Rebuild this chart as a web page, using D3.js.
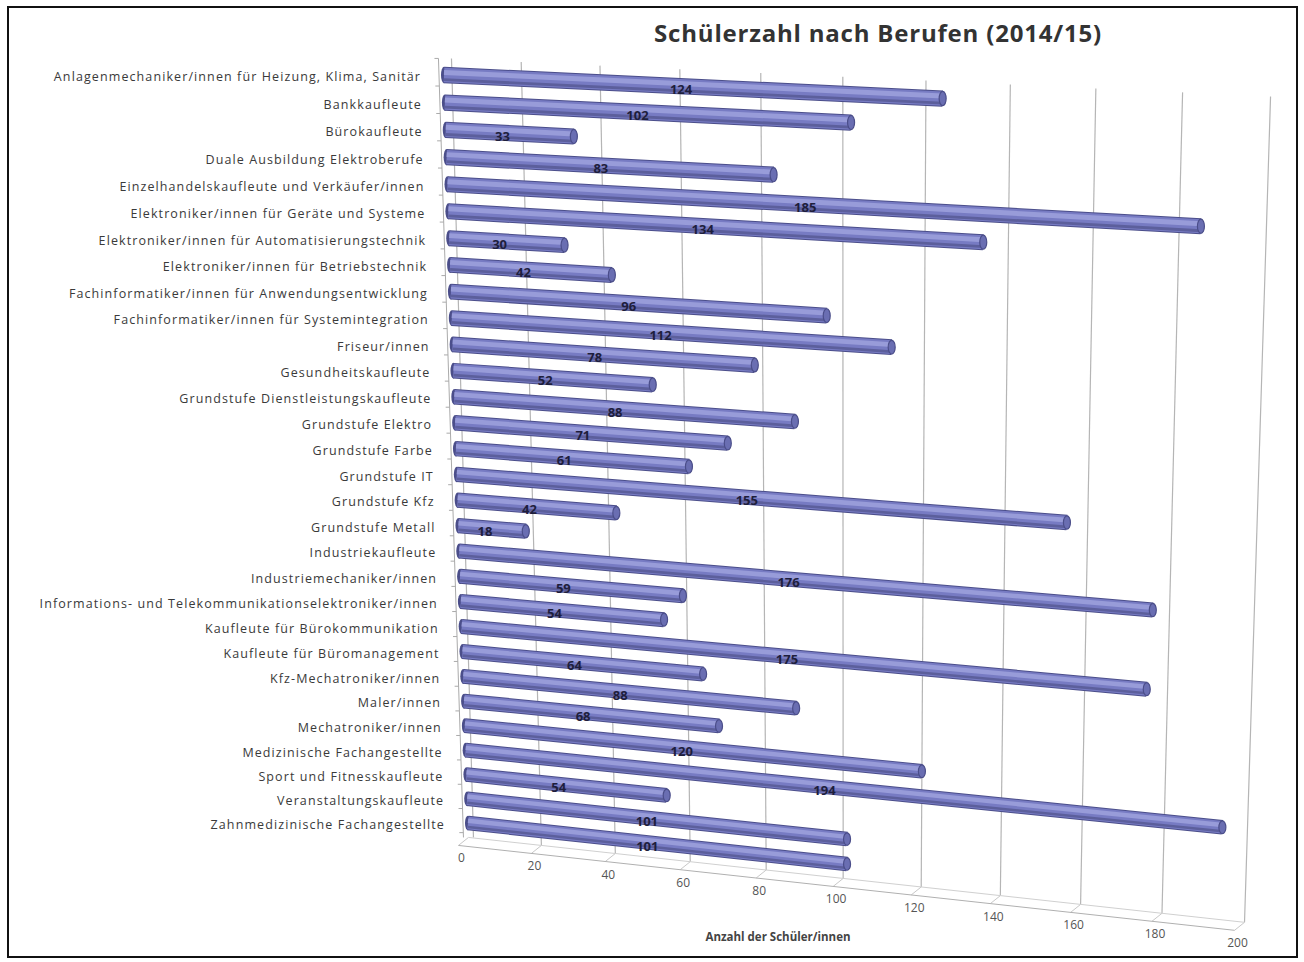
<!DOCTYPE html>
<html>
<head>
<meta charset="utf-8">
<script src="https://cdn.jsdelivr.net/npm/d3@7"></script>
<style>
  body { margin: 0; background: #fff; }
  svg { display: block; }
</style>
</head>
<body>
<div id="chart"></div>
<script>
// Categories (top to bottom) and values
const categories = [
  "Anlagenmechaniker/innen für Heizung, Klima, Sanitär",
  "Bankkaufleute",
  "Bürokaufleute",
  "Duale Ausbildung Elektroberufe",
  "Einzelhandelskaufleute und Verkäufer/innen",
  "Elektroniker/innen für Geräte und Systeme",
  "Elektroniker/innen für Automatisierungstechnik",
  "Elektroniker/innen für Betriebstechnik",
  "Fachinformatiker/innen für Anwendungsentwicklung",
  "Fachinformatiker/innen für Systemintegration",
  "Friseur/innen",
  "Gesundheitskaufleute",
  "Grundstufe Dienstleistungskaufleute",
  "Grundstufe Elektro",
  "Grundstufe Farbe",
  "Grundstufe IT",
  "Grundstufe Kfz",
  "Grundstufe Metall",
  "Industriekaufleute",
  "Industriemechaniker/innen",
  "Informations- und Telekommunikationselektroniker/innen",
  "Kaufleute für Bürokommunikation",
  "Kaufleute für Büromanagement",
  "Kfz-Mechatroniker/innen",
  "Maler/innen",
  "Mechatroniker/innen",
  "Medizinische Fachangestellte",
  "Sport und Fitnesskaufleute",
  "Veranstaltungskaufleute",
  "Zahnmedizinische Fachangestellte"
];
const values = [124, 102, 33, 83, 185, 134, 30, 42, 96, 112, 78, 52, 88, 71, 61,
                155, 42, 18, 176, 59, 54, 175, 64, 88, 68, 120, 194, 54, 101, 101];
const xTicks = [0, 20, 40, 60, 80, 100, 120, 140, 160, 180, 200];
const title = "Schülerzahl nach Berufen (2014/15)";
const xTitle = "Anzahl der Schüler/innen";

const W = 1304, H = 962;
const svg = d3.select("#chart").append("svg")
    .attr("width", W)
    .attr("height", H);

// scales for the value axis and the category rows
const vScale = d3.scaleLinear().domain([0, 200]).range([0, 1]);
const rScale = d3.scaleLinear().domain([0, categories.length - 1]).range([0, 1]);

// perspective warp (right side and top are nearer to the viewer)
const kv = 0.0664, kr = 0.0696;
const warpV = u => u * (1 - kv) / (1 - kv * u);
const warpR = s => s * (1 + kr) / (1 + kr * s);

// corners of the bar plane: first/last row at value 0 and 200
const TL = [444, 75], TR = [1270, 114], BL = [468, 823], BR = [1245, 907];

function proj(v, r) {
  const u = warpV(vScale(v)), s = warpR(rScale(r));
  const x = (1 - s) * ((1 - u) * TL[0] + u * TR[0]) + s * ((1 - u) * BL[0] + u * BR[0]);
  const y = (1 - s) * ((1 - u) * TL[1] + u * TR[1]) + s * ((1 - u) * BL[1] + u * BR[1]);
  return [x, y];
}

// outer frame
svg.append("rect")
    .attr("x", 8).attr("y", 7)
    .attr("width", 1289).attr("height", 950)
    .attr("fill", "none")
    .attr("stroke", "#111")
    .attr("stroke-width", 2);

// title
svg.append("text")
    .attr("x", 878).attr("y", 42)
    .attr("text-anchor", "middle")
    .style("font", "bold 24px 'Open Sans', sans-serif")
    .style("letter-spacing", "0.8px")
    .style("fill", "#333")
    .text(title);

const rTop = -0.6, rBot = categories.length - 1 + 0.6;
const floorShift = [-10, 8];

// gridlines on the back wall
const grid = svg.append("g");
xTicks.forEach(t => {
  const a = proj(t, rTop), b = proj(t, rBot);
  grid.append("line")
      .attr("x1", a[0] + (t === 0 ? 8 : 0)).attr("y1", a[1])
      .attr("x2", b[0] + (t === 0 ? 5 : 0)).attr("y2", b[1])
      .attr("stroke", "#b5b5b5")
      .attr("stroke-width", 1.2);
  // floor depth line from back to front tick
  grid.append("line")
      .attr("x1", b[0]).attr("y1", b[1])
      .attr("x2", b[0] + floorShift[0]).attr("y2", b[1] + floorShift[1])
      .attr("stroke", "#c8c8c8");
});

// floor edges
const back0 = proj(0, rBot), back1 = proj(200, rBot);
grid.append("line")
    .attr("x1", back0[0]).attr("y1", back0[1])
    .attr("x2", back1[0]).attr("y2", back1[1])
    .attr("stroke", "#d0d0d0");
grid.append("line")
    .attr("x1", back0[0] + floorShift[0]).attr("y1", back0[1] + floorShift[1])
    .attr("x2", back1[0] + floorShift[0]).attr("y2", back1[1] + floorShift[1])
    .attr("stroke", "#b0b0b0");

// tick labels under the floor
xTicks.forEach(t => {
  const b = proj(t, rBot);
  svg.append("text")
      .attr("x", b[0] + floorShift[0] + 3)
      .attr("y", b[1] + floorShift[1] + 17)
      .attr("text-anchor", "middle")
      .style("font", "12px 'Open Sans', sans-serif")
      .style("fill", "#555")
      .text(t);
});

// axis title
svg.append("text")
    .attr("x", 778).attr("y", 941)
    .attr("text-anchor", "middle")
    .style("font", "bold 11.5px 'Open Sans', sans-serif")
    .style("fill", "#444")
    .text(xTitle);

// category axis line with small ticks between rows
const ax0 = proj(0, rTop), ax1 = proj(0, rBot);
svg.append("line")
    .attr("x1", ax0[0] - 5).attr("y1", ax0[1])
    .attr("x2", ax1[0] - 5).attr("y2", ax1[1])
    .attr("stroke", "#aaa");
d3.range(rTop, rBot + 0.01, 1).forEach(r => {
  const p = proj(0, r);
  svg.append("line")
      .attr("x1", p[0] - 9).attr("y1", p[1])
      .attr("x2", p[0] - 5).attr("y2", p[1])
      .attr("stroke", "#aaa");
});

// category labels
categories.forEach((c, i) => {
  const p = proj(0, i);
  svg.append("text")
      .attr("x", p[0] - 23)
      .attr("y", p[1] + 2)
      .attr("dy", "0.35em")
      .attr("text-anchor", "end")
      .style("font", "12.5px 'Open Sans', sans-serif")
      .style("letter-spacing", "1.1px")
      .style("fill", "#3a3a3a")
      .text(c);
});

// bars drawn as tubes
const bars = svg.append("g");
values.forEach((v, i) => {
  const a = proj(0, i), b = proj(v, i);
  const th = (proj(0, i + 0.5)[1] - proj(0, i - 0.5)[1]) * 0.52;
  const g = bars.append("g");
  g.append("ellipse")
      .attr("cx", a[0]).attr("cy", a[1])
      .attr("rx", 3).attr("ry", th / 2 + 1)
      .attr("fill", "#4b4e8a");
  g.append("line")
      .attr("x1", a[0]).attr("y1", a[1]).attr("x2", b[0]).attr("y2", b[1])
      .attr("stroke", "#4b4e8a").attr("stroke-width", th + 2);
  g.append("line")
      .attr("x1", a[0]).attr("y1", a[1]).attr("x2", b[0]).attr("y2", b[1])
      .attr("stroke", "#777bc3").attr("stroke-width", th);
  g.append("line")
      .attr("x1", a[0]).attr("y1", a[1] - th * 0.18).attr("x2", b[0]).attr("y2", b[1] - th * 0.18)
      .attr("stroke", "#989cd9").attr("stroke-width", th * 0.35);
  g.append("line")
      .attr("x1", a[0]).attr("y1", a[1] + th * 0.32).attr("x2", b[0]).attr("y2", b[1] + th * 0.32)
      .attr("stroke", "#5c5f9c").attr("stroke-width", th * 0.2);
  g.append("ellipse")
      .attr("cx", b[0]).attr("cy", b[1])
      .attr("rx", 3.5).attr("ry", th / 2)
      .attr("fill", "#6a6eb2")
      .attr("stroke", "#4b4e8a").attr("stroke-width", 1.2);
});

// value labels at the middle of each bar
values.forEach((v, i) => {
  const m = proj(v / 2, i);
  svg.append("text")
      .attr("x", m[0] - 7)
      .attr("y", m[1] + 3)
      .attr("dy", "0.35em")
      .attr("text-anchor", "middle")
      .style("font", "bold 13px 'Open Sans', sans-serif")
      .style("fill", "#1e1e3c")
      .text(v);
});
</script>
</body>
</html>
